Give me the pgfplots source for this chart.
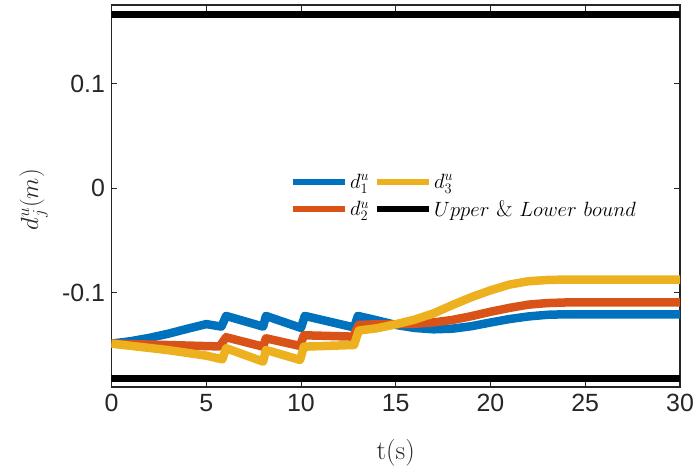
\documentclass[border=0pt]{standalone}
\usepackage{pgfplots}
\pgfplotsset{compat=1.18}
\usepackage{fontspec}
\newfontfamily\ticksf{Liberation Sans}
\definecolor{mblue}{rgb}{0,0.447,0.741}
\definecolor{morange}{rgb}{0.85,0.325,0.098}
\definecolor{myellow}{rgb}{0.929,0.694,0.125}
\definecolor{axgray}{rgb}{0.15,0.15,0.15}
\begin{document}
\begin{tikzpicture}
\useasboundingbox (-111.5bp,-85bp) rectangle (586.5bp,387bp);
\begin{axis}[
  at={(0,0)}, anchor=south west,
  scale only axis, width=568.5bp, height=382bp,
  xmin=0, xmax=30, ymin=-0.19, ymax=0.1755,
  xtick={0,5,10,15,20,25,30},
  xticklabels={0,5,10,15,20,25,30},
  ytick={-0.1,0,0.1},
  yticklabels={-0.1,0,0.1},
  axis line style={axgray, line width=1.1bp},
  tick style={axgray, line width=1bp},
  major tick length=6bp,
  tick align=inside,
  xtick pos=both, ytick pos=both,
  ticklabel style={font=\ticksf\fontsize{25}{30}\selectfont, text=axgray},
  yticklabel style={xshift=-3bp},
  xticklabel style={yshift=-4bp},
  xlabel={t(s)},
  ylabel={$d_j^u(m)$},
  label style={font=\fontsize{27}{32}\selectfont, text=axgray},
  xlabel style={at={(axis description cs:0.5,-0.172)}, anchor=center},
  ylabel style={at={(axis description cs:-0.137,0.49)}, anchor=center, rotate=0},
  legend columns=2,
  legend style={draw=none, fill=none, inner sep=0pt,
    at={(0.314,0.5)}, anchor=west,
    font=\fontsize{22.6}{26}\selectfont,
    nodes={inner sep=2bp},
    row sep=7bp,
    /tikz/every even column/.append style={column sep=3bp}},
  legend cell align=left,
  legend image code/.code={\draw[#1, line width=6bp, line cap=butt] (0bp,0bp) -- (52bp,0bp);},
]
% blue d1
\addplot[mblue, line width=8.5bp, line join=round, forget plot] coordinates {
(0,-0.1485) (1,-0.1462) (2,-0.1430) (3,-0.1390) (4,-0.1343) (4.83,-0.1306) (5.0,-0.1298)
(5.8,-0.1322) (6.05,-0.122) (8.0,-0.1322) (8.15,-0.122) (10.0,-0.1335) (10.2,-0.122)
(12.8,-0.1330) (13.0,-0.122) (14.0,-0.1262) (15.0,-0.1306) (16.0,-0.1335) (17.0,-0.1348)
(18.0,-0.1342) (19.0,-0.1318) (20.0,-0.1283) (21.0,-0.1250) (22.0,-0.1225)
(23.0,-0.1209) (24.0,-0.1204) (30,-0.1204)};
% orange d2
\addplot[morange, line width=8.5bp, line join=round, forget plot] coordinates {
(0,-0.1485) (2.9,-0.1498) (5.7,-0.1512) (6.05,-0.1424) (8.0,-0.1514) (8.15,-0.1434)
(9.95,-0.1507) (10.15,-0.1405) (12.75,-0.1418) (13.05,-0.1306) (14.0,-0.1300) (15.0,-0.1300)
(16.0,-0.1295) (17.0,-0.1282) (18.0,-0.1258) (19.0,-0.1222) (20.0,-0.1180) (21.0,-0.1143)
(22.0,-0.1112) (23.0,-0.1097) (24.0,-0.1091) (30,-0.1091)};
% yellow d3
\addplot[myellow, line width=8.5bp, line join=round, forget plot] coordinates {
(0,-0.1485) (2.9,-0.1545) (5.0,-0.1600) (5.85,-0.1635) (6.05,-0.1529) (8.0,-0.1657) (8.15,-0.1545)
(9.95,-0.1641) (10.15,-0.1514) (12.8,-0.1498) (13.05,-0.1360) (14.0,-0.1338) (15.0,-0.1300)
(16.0,-0.1255) (17.0,-0.1195) (18.0,-0.1115) (19.0,-0.1040) (20.0,-0.0975) (21.0,-0.0920)
(22.0,-0.0888) (23.0,-0.0876) (24.0,-0.0872) (30,-0.0872)};
% bounds
\addplot[black, line width=7bp, forget plot] coordinates {(0,0.166) (30,0.166)};
\addplot[black, line width=7bp, forget plot] coordinates {(0,-0.182) (30,-0.182)};
% legend in MATLAB column-major order
\addlegendimage{mblue}
\addlegendentry{$d_1^u$}
\addlegendimage{myellow}
\addlegendentry{$d_3^u$}
\addlegendimage{morange}
\addlegendentry{$d_2^u$}
\addlegendimage{black}
\addlegendentry{$Upper\ \&\ Lower\ bound$}
\end{axis}
\end{tikzpicture}
\end{document}
